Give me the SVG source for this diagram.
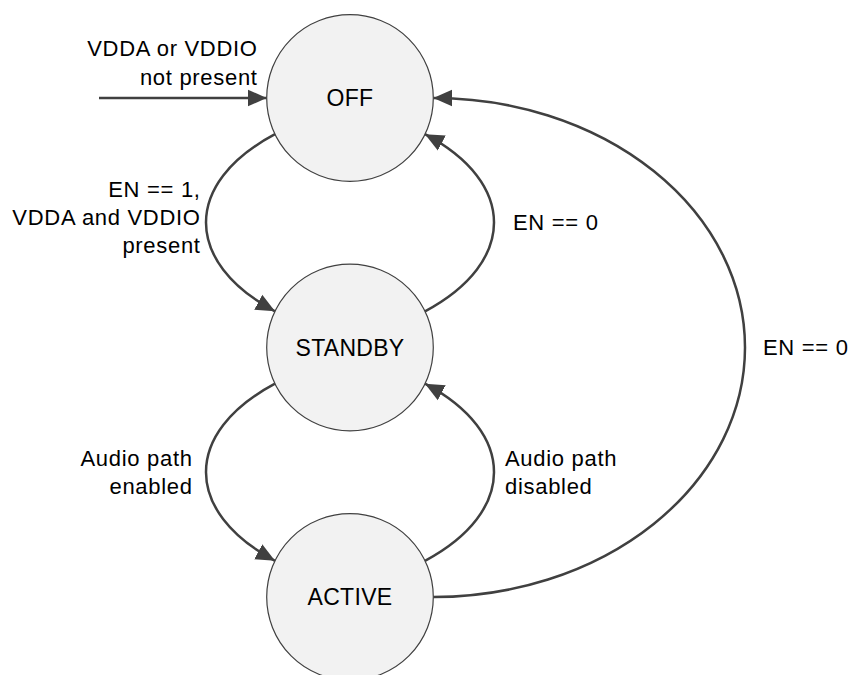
<svg xmlns="http://www.w3.org/2000/svg" width="853" height="675" viewBox="0 0 853 675">
<style>
.node circle { fill:#f2f2f2; stroke:#404040; stroke-width:1.2; }
.node text { font-family:"Liberation Sans", Arial, sans-serif; font-size:23px; letter-spacing:0.3px; text-anchor:middle; fill:#000; }
.edge { fill:none; stroke:#404040; stroke-width:2.5; marker-end:url(#arrow); }
.lbl { font-family:"Liberation Sans", Arial, sans-serif; font-size:22px; letter-spacing:0.7px; fill:#000; }
.end { text-anchor:end; }
</style>
<defs>
<marker id="arrow" markerUnits="userSpaceOnUse" markerWidth="20" markerHeight="18" viewBox="0 0 20 18" refX="19" refY="9" orient="auto">
<path d="M0,0.5 L19,9 L0,17.5 Z" fill="#404040"/>
</marker>
</defs>
<g id="connectors">
<path class="edge" d="M99,98 L266.7,98"/>
<path class="edge" d="M275,134.2 C183,183 183,262 275,311.3"/>
<path class="edge" d="M425,311.3 C517,262 517,183 425,134.2"/>
<path class="edge" d="M275,383.7 C183,432.7 183,511.5 275,560.8"/>
<path class="edge" d="M425,560.8 C517,511.5 517,432.7 425,383.7"/>
<path class="edge" d="M433.3,597 A311.7,249.5 0 0 0 433.3,98"/>
</g>
<g id="labels">
<text class="lbl end" x="257.7" y="56">VDDA or VDDIO</text>
<text class="lbl end" x="257.7" y="85">not present</text>
<text class="lbl end" x="200.7" y="197">EN == 1,</text>
<text class="lbl end" x="200.7" y="225">VDDA and VDDIO</text>
<text class="lbl end" x="200.7" y="253">present</text>
<text class="lbl" x="513" y="230">EN == 0</text>
<text class="lbl" x="763" y="355">EN == 0</text>
<text class="lbl end" x="192.7" y="466">Audio path</text>
<text class="lbl end" x="192.7" y="494">enabled</text>
<text class="lbl" x="505" y="466">Audio path</text>
<text class="lbl" x="505" y="494">disabled</text>
</g>
<g id="off" class="node">
<circle cx="350" cy="98" r="83.3"/>
<text x="350" y="106">OFF</text>
</g>
<g id="standby" class="node">
<circle cx="350" cy="347.5" r="83.3"/>
<text x="350" y="355.5">STANDBY</text>
</g>
<g id="active" class="node">
<circle cx="350" cy="597" r="83.3"/>
<text x="350" y="605">ACTIVE</text>
</g>
</svg>
